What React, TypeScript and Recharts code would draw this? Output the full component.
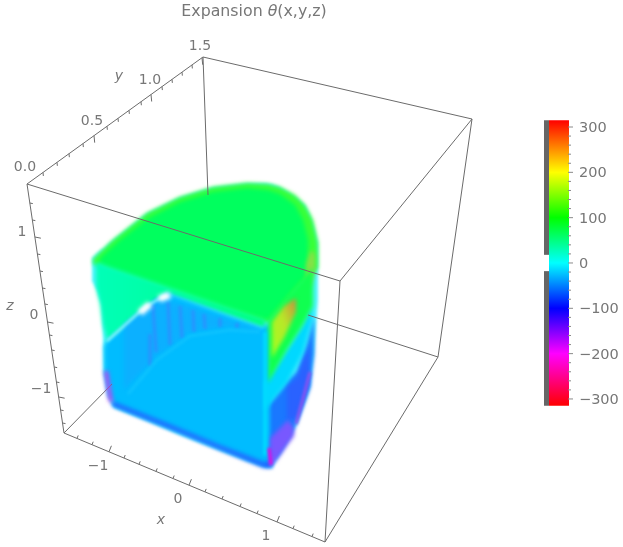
import React from 'react';
import { ComposedChart, Area, Line, Scatter, XAxis, YAxis } from 'recharts';

type Row = [number, number, number];
type Pt = [number, number];

const WIDTH = 623;
const HEIGHT = 547;
const TEXT = '#777777';
const EDGE = '#6b6b6b';

// box edges
const hiddenEdges: Pt[][] = [
  [[203, 57], [208, 195]],
  [[64, 433], [112, 384]],
  [[308, 315], [438, 357]],
];
const frontEdges: Pt[][] = [
  [[27, 184], [203, 57]],
  [[203, 57], [472, 119]],
  [[472, 119], [340, 281]],
  [[472, 119], [438, 357]],
  [[438, 357], [325, 542]],
  [[340, 281], [325, 542]],
  [[27, 184], [64, 433]],
  [[64, 433], [325, 542]],
  [[27, 184], [340, 281]],
];

// tick positions along the edges
const xTickPx = [77, 92, 109, 124, 139, 156, 173, 189, 205, 222, 240, 257, 277, 293, 312];
const xMajor = [109, 189, 277];
const yTickPx = [43, 57, 69, 83, 94, 107, 118, 129, 141, 151, 162, 172, 182, 192, 202];
const yMajor = [94, 151, 202];
const zTickPx = [203, 220, 237, 254, 271, 288, 304, 322, 335, 350, 367, 382, 397, 410, 423];
const zMajor = [237, 322, 397];

const axisLabels = [
  { x: 98, y: 465, text: '\u22121' },
  { x: 178, y: 498, text: '0' },
  { x: 266, y: 535, text: '1' },
  { x: 161, y: 519, text: 'x', italic: true },
  { x: 22, y: 231, text: '1' },
  { x: 34, y: 314, text: '0' },
  { x: 41, y: 388, text: '\u22121' },
  { x: 10, y: 305, text: 'z', italic: true },
  { x: 25, y: 166, text: '0.0' },
  { x: 92, y: 120, text: '0.5' },
  { x: 150, y: 79, text: '1.0' },
  { x: 200, y: 45, text: '1.5' },
  { x: 119, y: 75, text: 'y', italic: true },
];
const titlePoint = [{ x: 254, y: 10 }];

// colour bar
const barMajor = [300, 200, 100, 0, -100, -200, -300];
const barMinor = [280, 260, 240, 220, 180, 160, 140, 120, 80, 60, 40, 20, -20, -40, -60, -80, -120, -140, -160, -180, -220, -240, -260, -280];
const barStops = [
  { v: 315, c: '#ff0000' },
  { v: 200, c: '#ffff00' },
  { v: 100, c: '#00ff00' },
  { v: 0, c: '#00ffff' },
  { v: -100, c: '#0000ff' },
  { v: -200, c: '#ff00ff' },
  { v: -315, c: '#ff0000' },
];
const BAR_TOP = 315;
const BAR_BOTTOM = -315;
const barWhite = [18, -18];

// volume outlines as [x, top, bottom]
const haloRows: Row[] = [
  [92, 258, 281], [97, 253, 290], [102, 249, 306], [104, 248, 372], [108, 244, 395], [114, 239, 408],
  [147, 213, 421], [180, 197, 435], [213, 187, 448], [247, 183, 461], [265, 183, 467], [272, 184, 468],
  [280, 187, 454], [290, 193, 436], [297, 198, 423], [305, 205, 401], [310, 215, 387], [314, 227, 354],
  [318, 243, 300],
];
const topRimRows: Row[] = [
  [93, 259, 264], [113, 240, 271], [147, 213, 282], [180, 197, 293], [213, 187, 304], [247, 183, 315],
  [268, 184, 322], [280, 187, 309], [295, 195, 291], [305, 205, 280], [313, 220, 273], [318, 243, 268],
];
const topInnerRows: Row[] = [
  [100, 258, 264], [120, 240, 272], [147, 219, 281], [180, 202, 292], [213, 192, 303], [247, 188, 314],
  [268, 190, 320], [280, 194, 306], [295, 205, 289], [303, 220, 280], [308, 240, 276],
];
const rimOliveRows: Row[] = [
  [306, 264, 292], [311, 250, 284], [315, 254, 272],
];
const tealRows: Row[] = [
  [96, 262, 287], [100, 263, 303], [103, 264, 325], [108, 266, 342], [167, 286, 293], [265, 319, 328],
];
const blueFrontRows: Row[] = [
  [104, 346, 372], [108, 340, 396], [115, 334, 406], [167, 293, 427], [262, 328, 465], [270, 324, 466],
];
const blueBottomRows: Row[] = [
  [112, 401, 406], [167, 423, 428], [220, 445, 450], [264, 462, 468], [272, 460, 468],
];
const innerPanelRows: Row[] = [
  [124, 325, 390], [157, 298, 356], [190, 307, 332], [230, 321, 326], [260, 329, 330],
];
const sideGreenRows: Row[] = [
  [268, 320, 383], [287, 296, 350], [303, 278, 325], [313, 268, 306],
];
const sideOliveRows: Row[] = [
  [272, 322, 358], [284, 306, 338], [296, 298, 312],
];
const sideCyanRows: Row[] = [
  [265, 383, 410], [287, 350, 383], [303, 325, 353], [312, 306, 320],
];
const sideBlueRows: Row[] = [
  [267, 405, 466], [280, 390, 453], [290, 378, 436], [297, 372, 423], [305, 350, 401], [310, 332, 387], [314, 316, 354],
];
const sideDeepRows: Row[] = [
  [287, 386, 420], [297, 378, 418], [304, 358, 400], [309, 345, 385],
];
const sidePurpleRows: Row[] = [
  [270, 438, 467], [276, 432, 461], [288, 420, 444], [294, 428, 436],
];

const ribLines: Pt[][] = [
  [[150, 334], [150, 366]],
  [[153, 305], [156, 352]],
  [[168, 302], [170, 345]],
  [[180, 306], [182, 338]],
  [[193, 310], [194, 332]],
  [[204, 314], [205, 329]],
  [[220, 318], [220, 327]],
  [[237, 323], [237, 328]],
];
const arcLine: Pt[] = [[128, 394], [157, 360], [190, 336], [230, 330], [260, 332]];
const glareLine: Pt[] = [[107, 341], [145, 307], [166, 295]];
const glareSpots: Pt[][] = [
  [[140, 313], [150, 304]],
  [[159, 299], [170, 295]],
];
const purpleLeft: Pt[] = [[106, 371], [111, 402]];
const magentaLow: Pt[] = [[269, 448], [271, 465]];
const pinkRim: Pt[] = [[310, 372], [304, 395], [296, 424]];
const cyanEdge: Pt[] = [[265, 332], [265, 455]];

const band = (rows: Row[]) => rows.map(([x, t, b]) => ({ x, range: [t, b] }));
const path = (pts: Pt[]) => pts.map(([x, y]) => ({ x, y }));

const tickOnX = (px: number): Pt[] => {
  const y = 433 + ((px - 64) * (542 - 433)) / (325 - 64);
  const len = xMajor.includes(px) ? 6 : 3;
  return [[px, y], [px + len * 0.4, y - len]];
};
const tickOnY = (px: number): Pt[] => {
  const y = 184 - ((px - 27) * (184 - 57)) / (203 - 27);
  const len = yMajor.includes(px) ? 7 : 3.5;
  return [[px, y], [px + len * 0.1, y + len]];
};
const tickOnZ = (py: number): Pt[] => {
  const x = 27 + ((py - 184) * (64 - 27)) / (433 - 184);
  const len = zMajor.includes(py) ? 6 : 3;
  return [[x, py], [x + len, py + len * 0.2]];
};

const LabelShape = (props: any) => {
  const { cx, cy, payload } = props;
  return (
    <text
      x={cx}
      y={cy}
      textAnchor="middle"
      dominantBaseline="central"
      fontFamily="'DejaVu Sans'"
      fontSize={14}
      fontStyle={payload.italic ? 'italic' : 'normal'}
      fill={TEXT}
    >
      {payload.text}
    </text>
  );
};

const TitleShape = (props: any) => (
  <text
    x={props.cx}
    y={props.cy}
    textAnchor="middle"
    dominantBaseline="central"
    fontFamily="'DejaVu Sans'"
    fontSize={15.8}
    fill={TEXT}
  >
    Expansion <tspan fontStyle="italic">θ</tspan>(x,y,z)
  </text>
);

const BarLabelShape = (props: any) => (
  <text
    x={props.cx}
    y={props.cy}
    dominantBaseline="central"
    fontFamily="'DejaVu Sans'"
    fontSize={14.5}
    fill={TEXT}
  >
    {props.payload.v < 0 ? `\u2212${-props.payload.v}` : props.payload.v}
  </text>
);

const App = () => {
  const soft = (rows: Row[], fill: string, key: string, cls = 'soft') => (
    <Area
      key={key}
      data={band(rows)}
      dataKey="range"
      type="linear"
      fill={fill}
      fillOpacity={1}
      stroke="none"
      className={cls}
      dot={false}
      activeDot={false}
      isAnimationActive={false}
    />
  );
  const seg = (pts: Pt[], color: string, w: number, key: string, cls?: string) => (
    <Line
      key={key}
      data={path(pts)}
      dataKey="y"
      type="linear"
      stroke={color}
      strokeWidth={w}
      className={cls}
      dot={false}
      activeDot={false}
      isAnimationActive={false}
    />
  );
  const barTick = (v: number, x1: number, x2: number, key: string) => (
    <Line
      key={key}
      yAxisId="bar"
      data={[{ x: x1, v }, { x: x2, v }]}
      dataKey="v"
      type="linear"
      stroke="#8a8a8a"
      strokeWidth={1}
      dot={false}
      activeDot={false}
      isAnimationActive={false}
    />
  );
  const barBand = (x1: number, x2: number, hi: number, lo: number, fill: string, key: string) => (
    <Area
      key={key}
      yAxisId="bar"
      data={[{ x: x1, range: [lo, hi] }, { x: x2, range: [lo, hi] }]}
      dataKey="range"
      type="linear"
      fill={fill}
      fillOpacity={1}
      stroke="none"
      dot={false}
      activeDot={false}
      isAnimationActive={false}
    />
  );

  return (
    <div style={{ position: 'absolute', left: 0, top: 0, width: WIDTH, height: HEIGHT, filter: 'blur(0.3px)' }}>
      <style>{`
        .soft path { filter: blur(2px); }
        .softer path { filter: blur(1.8px); }
        .line-soft path { filter: blur(1.6px); }
        .line-softer path { filter: blur(2.2px); }
      `}</style>
      <ComposedChart width={WIDTH} height={HEIGHT} margin={{ top: 0, right: 0, bottom: 0, left: 0 }}>
        <defs>
          <linearGradient id="barFill" x1="0" y1="0" x2="0" y2="1">
            {barStops.map((s) => (
              <stop
                key={s.v}
                offset={(BAR_TOP - s.v) / (BAR_TOP - BAR_BOTTOM)}
                stopColor={s.c}
              />
            ))}
          </linearGradient>
          <linearGradient id="tealFill" x1="0" y1="0" x2="1" y2="0">
            <stop offset="0" stopColor="#00ffb8" />
            <stop offset="0.45" stopColor="#00ffa0" />
            <stop offset="1" stopColor="#00ff80" />
          </linearGradient>
          <linearGradient id="oliveFill" x1="0" y1="1" x2="1" y2="0">
            <stop offset="0" stopColor="#a0ff20" />
            <stop offset="0.55" stopColor="#b8e828" />
            <stop offset="1" stopColor="#c88c40" />
          </linearGradient>
        </defs>
        <XAxis type="number" dataKey="x" domain={[0, WIDTH]} hide allowDataOverflow />
        <YAxis type="number" dataKey="y" domain={[0, HEIGHT]} reversed hide allowDataOverflow />
        <YAxis yAxisId="bar" type="number" dataKey="v" domain={[-626.6, 580.2]} hide allowDataOverflow />

        {hiddenEdges.map((e, i) => seg(e, EDGE, 1, `h${i}`))}

        {soft(haloRows, '#50f4ff', 'halo', 'softer')}
        {soft(topRimRows, '#38ff38', 'rim')}
        {soft(topInnerRows, '#00ff5e', 'top')}
        {soft(rimOliveRows, '#88e048', 'rimOlive')}
        {soft(tealRows, 'url(#tealFill)', 'teal')}
        {soft(sideBlueRows, '#1a78ff', 'sideBlue')}
        {soft(sideDeepRows, '#2a62ff', 'sideDeep')}
        {soft(blueFrontRows, '#00bcff', 'blueFront')}
        {soft(blueBottomRows, '#1e64ff', 'blueBottom')}
        {soft(innerPanelRows, '#0cb0ff', 'panel')}
        {ribLines.map((r, i) => seg(r, '#2c90ff', 3, `r${i}`, 'line-soft'))}
        {seg(arcLine, '#10c4ff', 2.5, 'arc', 'line-soft')}
        {soft(sideCyanRows, '#00d8ff', 'sideCyan')}
        {soft(sideGreenRows, '#10ff50', 'sideGreen')}
        {soft(sideOliveRows, 'url(#oliveFill)', 'sideOlive')}
        {soft(sidePurpleRows, '#7858ff', 'sidePurple')}
        {seg(cyanEdge, '#00e0ff', 3, 'cyanEdge', 'line-soft')}
        {seg(pinkRim, '#9050f0', 3, 'pink', 'line-soft')}
        {seg(purpleLeft, '#c040f0', 4, 'purple', 'line-softer')}
        {seg(magentaLow, '#f000e0', 3, 'magenta', 'line-soft')}
        {seg(glareLine, '#90f4ff', 2.5, 'glare', 'line-soft')}
        {glareSpots.map((s, i) => seg(s, '#ffffff', 7, `g${i}`, 'line-softer'))}

        {frontEdges.map((e, i) => seg(e, EDGE, 1, `e${i}`))}
        {xTickPx.map((p) => seg(tickOnX(p), EDGE, 1, `tx${p}`))}
        {yTickPx.map((p) => seg(tickOnY(p), EDGE, 1, `ty${p}`))}
        {zTickPx.map((p) => seg(tickOnZ(p), EDGE, 1, `tz${p}`))}

        {barBand(544, 549, BAR_TOP, BAR_BOTTOM, '#666666', 'barGray')}
        {barBand(544, 549, barWhite[0], barWhite[1], '#ffffff', 'barWhite')}
        {barBand(549, 569, BAR_TOP, BAR_BOTTOM, 'url(#barFill)', 'barColor')}
        {barMajor.map((v) => barTick(v, 568, 573, `bm${v}`))}
        {barMinor.map((v) => barTick(v, 568, 571, `bn${v}`))}

        <Scatter data={axisLabels} shape={LabelShape} isAnimationActive={false} />
        <Scatter data={titlePoint} shape={TitleShape} isAnimationActive={false} />
        <Scatter
          yAxisId="bar"
          data={barMajor.map((v) => ({ x: 579, v }))}
          shape={BarLabelShape}
          isAnimationActive={false}
        />
      </ComposedChart>
    </div>
  );
};

export default App;
